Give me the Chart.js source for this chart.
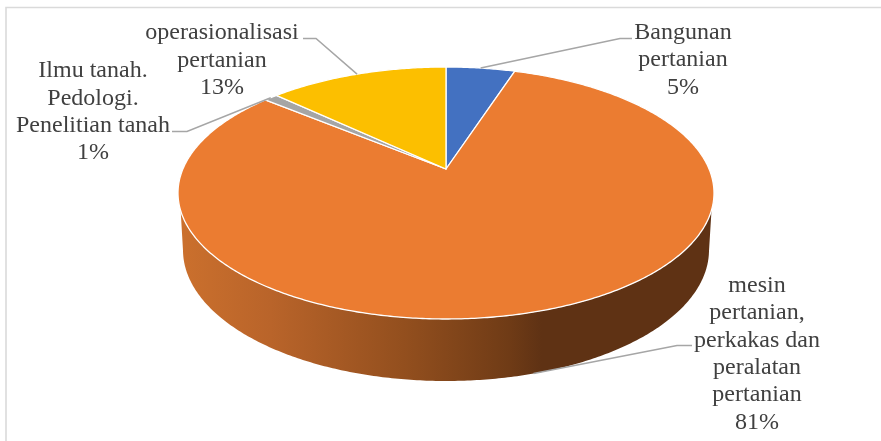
<!DOCTYPE html>
<html>
<head>
<meta charset="utf-8">
<style>
  html, body { margin: 0; padding: 0; background: #fff; }
  #frame { position: relative; width: 881px; height: 441px; overflow: hidden; }
  canvas { display: block; }
</style>
<script src="https://cdn.jsdelivr.net/npm/chart.js@4"></script>
</head>
<body>
<div id="frame"><canvas id="pie" width="881" height="441"></canvas></div>
<script>
// Shares of agricultural book subjects, in percent.
const categories = [
  ['Bangunan', 'pertanian'],
  ['mesin', 'pertanian,', 'perkakas dan', 'peralatan', 'pertanian'],
  ['Ilmu tanah.', 'Pedologi.', 'Penelitian tanah'],
  ['operasionalisasi', 'pertanian']
];
const shares = [5, 81, 1, 13];
const sliceColors = ['#4371C1', '#EB7C31', '#A5A5A5', '#FCBF00'];

// Label block centre and leader route for each slice, in canvas pixels.
const labelBoxes = [
  { cx: 683, top: 32.5, elbow: [620, 38.5],  end: [632, 38.5] },
  { cx: 757, top: 285.5, elbow: [677, 345.5], end: [692, 345.5], rim: true },
  { cx: 93,  top: 71,   elbow: [187, 131.5], end: [172, 131.5] },
  { cx: 222, top: 33,   elbow: [316, 38.5],  end: [303, 38.5] }
];
const LINE_HEIGHT = 27.4;

// Perspective projection of a unit disc lying on the table.
function makeDisc(cx, yTop, yBottom, yCentre, halfWidth) {
  const c = (2 * yCentre - yBottom - yTop) / (yBottom - yTop);
  const a = yBottom * (1 + c) - yCentre;
  // horizontal scale chosen so the widest point spans halfWidth
  const vWide = c === 0 ? 0 : -c;
  const w = Math.sqrt(1 - vWide * vWide) / (1 + c * vWide);
  const d = halfWidth / w;
  return (u, v) => {
    const q = 1 + c * v;
    return [cx + d * u / q, (a * v + yCentre) / q];
  };
}
const topFace = makeDisc(446, 67, 319, 169, 268);
const baseFace = makeDisc(446, 119, 381, 226, 263);

// Heights where the side wall leaves the top rim and meets the base rim
const WALL_TOP_Y = 210;
const WALL_BASE_Y = 250;

function rimPoint(disc, angle) {
  return disc(Math.cos(angle), Math.sin(angle));
}

function tracePath(ctx, points, move) {
  points.forEach((p, i) => {
    if (i === 0 && move) ctx.moveTo(p[0], p[1]);
    else ctx.lineTo(p[0], p[1]);
  });
}

function arcPoints(disc, from, to) {
  const steps = Math.max(2, Math.ceil(Math.abs(to - from) / 0.01));
  const pts = [];
  for (let i = 0; i <= steps; i++) {
    pts.push(rimPoint(disc, from + (to - from) * i / steps));
  }
  return pts;
}

const tiltedPie = {
  id: 'tiltedPie',
  // The library lays out the slice angles; they are projected here instead of
  // being drawn as flat circles.
  beforeDatasetDraw(chart, args) {
    const ctx = chart.ctx;
    const arcs = chart.getDatasetMeta(args.index).data;

    // Side wall
    const wall = ctx.createLinearGradient(180, 0, 712, 0);
    wall.addColorStop(0,    '#CB702D');
    wall.addColorStop(0.17, '#B9642A');
    wall.addColorStop(0.42, '#934F1E');
    wall.addColorStop(0.62, '#6F3B16');
    wall.addColorStop(0.68, '#5F3214');
    wall.addColorStop(1,    '#5F3214');
    const front = arcs[1];
    ctx.save();
    ctx.beginPath();
    tracePath(ctx, arcPoints(topFace, front.startAngle, front.endAngle)
      .filter(p => p[1] >= WALL_TOP_Y), true);
    tracePath(ctx, arcPoints(baseFace, front.endAngle, front.startAngle)
      .filter(p => p[1] >= WALL_BASE_Y), false);
    ctx.closePath();
    ctx.fillStyle = wall;
    ctx.fill();
    ctx.restore();

    // Top face
    arcs.forEach((arc, i) => {
      ctx.save();
      ctx.beginPath();
      const apex = topFace(0, 0);
      ctx.moveTo(apex[0], apex[1]);
      tracePath(ctx, arcPoints(topFace, arc.startAngle, arc.endAngle), false);
      ctx.closePath();
      ctx.fillStyle = sliceColors[i];
      ctx.fill();
      ctx.strokeStyle = '#FFFFFF';
      ctx.lineWidth = 1.3;
      ctx.lineJoin = 'round';
      ctx.stroke();
      ctx.restore();
    });
    return false;
  },
  afterDatasetsDraw(chart) {
    const ctx = chart.ctx;
    const arcs = chart.getDatasetMeta(0).data;

    arcs.forEach((arc, i) => {
      const box = labelBoxes[i];
      const mid = (arc.startAngle + arc.endAngle) / 2;
      const anchor = rimPoint(box.rim ? baseFace : topFace, mid);

      ctx.save();
      ctx.strokeStyle = '#A6A6A6';
      ctx.lineWidth = 1.5;
      ctx.beginPath();
      ctx.moveTo(anchor[0], anchor[1]);
      ctx.lineTo(box.elbow[0], box.elbow[1]);
      ctx.lineTo(box.end[0], box.end[1]);
      ctx.stroke();

      ctx.fillStyle = '#404040';
      ctx.font = '24px "Liberation Serif"';
      ctx.textAlign = 'center';
      ctx.textBaseline = 'middle';
      const lines = categories[i].concat(shares[i] + '%');
      lines.forEach((line, k) => {
        ctx.fillText(line, box.cx, box.top + k * LINE_HEIGHT);
      });
      ctx.restore();
    });

    // Chart frame, visible along the top and left edges
    ctx.save();
    ctx.strokeStyle = '#DADADA';
    ctx.lineWidth = 1.6;
    ctx.beginPath();
    ctx.moveTo(6, 441);
    ctx.lineTo(6, 7.5);
    ctx.lineTo(881, 7.5);
    ctx.stroke();
    ctx.restore();
  }
};

new Chart(document.getElementById('pie'), {
  type: 'pie',
  data: {
    labels: categories.map(c => c.join(' ')),
    datasets: [{ data: shares, backgroundColor: sliceColors, borderColor: '#FFFFFF' }]
  },
  options: {
    responsive: false,
    animation: false,
    plugins: { legend: { display: false }, tooltip: { enabled: false } }
  },
  plugins: [tiltedPie]
});
</script>
</body>
</html>
